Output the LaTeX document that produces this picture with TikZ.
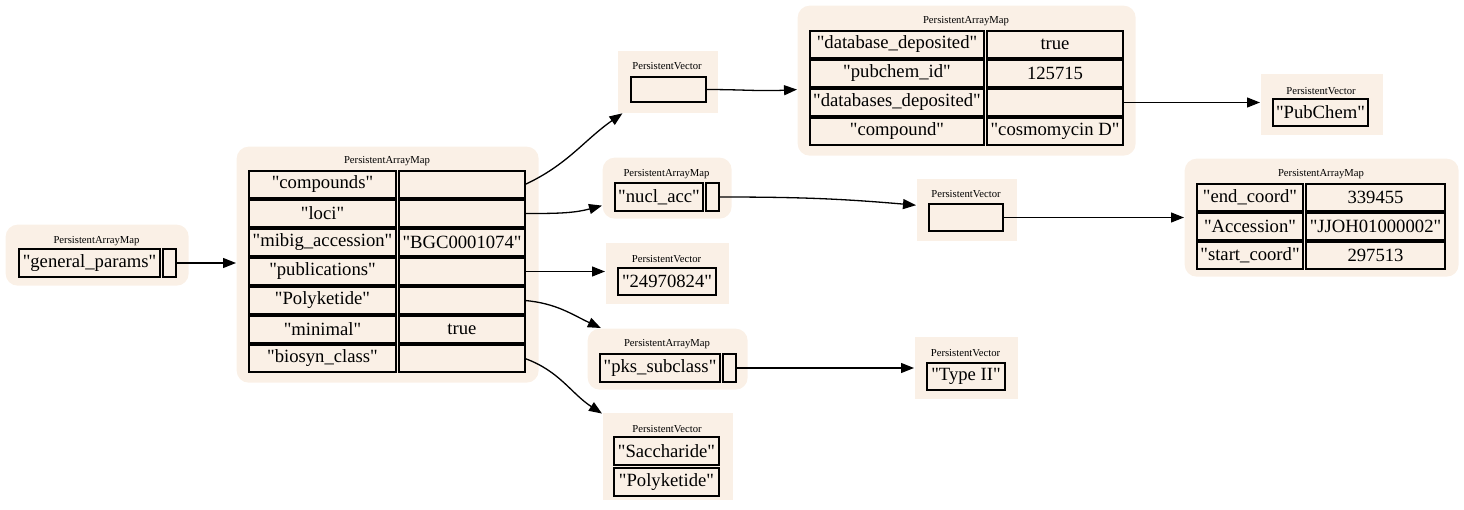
\documentclass[tikz,border=0pt]{standalone}
\usepackage{fontspec}
\setmainfont{Liberation Serif}
\usetikzlibrary{arrows.meta,positioning}
\definecolor{mapbg}{HTML}{FAF0E6}
\newcommand\strq[1]{\textquotedbl#1\textquotedbl}

\tikzset{
  mapbox/.style={fill=mapbg,rounded corners=12pt,anchor=north west,inner sep=0pt},
  vecbox/.style={fill=mapbg,anchor=north west,inner sep=0pt},
  cell/.style={draw=black,line width=1.2pt,fill=mapbg,anchor=north west,inner sep=0pt,
    outer sep=0pt,minimum height=27pt,font=\fontsize{18.67pt}{22pt}\selectfont},
  ttl/.style={inner sep=0pt,font=\fontsize{10.67pt}{12pt}\selectfont},
}

\begin{document}
\begin{tikzpicture}[x=1pt,y=1pt,>={Triangle[length=13pt,width=10pt]},line width=1.3pt]
\useasboundingbox (0,0) rectangle (1464,-509);
% general_params
\node[mapbox,minimum width=183pt,minimum height=61pt] (abg) at (5,-224) {};
\node[ttl] (atitle) at (96.5,-241) {PersistentArrayMap};
\node[cell,minimum width=141pt,minimum height=28pt] (a1) at (19,-249) {\strq{general\_params}};
\node[cell,minimum width=13pt,minimum height=28pt,right=3pt of a1] (a2) {};
% top level map
\node[mapbox,minimum width=302pt,minimum height=236pt] (bbg) at (236,-146) {};
\node[ttl] (btitle) at (387,-161) {PersistentArrayMap};
\node[cell,minimum width=147pt] (b1) at (249,-171) {\strq{compounds}};
\node[cell,minimum width=147pt,below=2pt of b1] (b2) {\strq{loci}};
\node[cell,minimum width=147pt,below=2pt of b2] (b3) {\strq{mibig\_accession}};
\node[cell,minimum width=147pt,below=2pt of b3] (b4) {\strq{publications}};
\node[cell,minimum width=147pt,below=2pt of b4] (b5) {\strq{Polyketide}};
\node[cell,minimum width=147pt,below=2pt of b5] (b6) {\strq{minimal}};
\node[cell,minimum width=147pt,below=2pt of b6] (b7) {\strq{biosyn\_class}};
\node[cell,minimum width=126pt,right=3pt of b1] (b1v) {};
\node[cell,minimum width=126pt,right=3pt of b2] (b2v) {};
\node[cell,minimum width=126pt,right=3pt of b3] (b3v) {\strq{BGC0001074}};
\node[cell,minimum width=126pt,right=3pt of b4] (b4v) {};
\node[cell,minimum width=126pt,right=3pt of b5] (b5v) {};
\node[cell,minimum width=126pt,right=3pt of b6] (b6v) {true};
\node[cell,minimum width=126pt,right=3pt of b7] (b7v) {};
% compounds
\node[vecbox,minimum width=100pt,minimum height=62pt] (cbg) at (617,-50) {};
\node[ttl] (ctitle) at (667,-66) {PersistentVector};
\node[cell,minimum width=75pt,minimum height=25pt] (c1) at (631,-77) {};
\node[mapbox,minimum width=338pt,minimum height=150pt] (hbg) at (797,-5) {};
\node[ttl] (htitle) at (966,-21) {PersistentArrayMap};
\node[cell,minimum width=174pt] (h1) at (810,-31) {\strq{database\_deposited}};
\node[cell,minimum width=174pt,below=2pt of h1] (h2) {\strq{pubchem\_id}};
\node[cell,minimum width=174pt,below=2pt of h2] (h3) {\strq{databases\_deposited}};
\node[cell,minimum width=174pt,below=2pt of h3] (h4) {\strq{compound}};
\node[cell,minimum width=136pt,right=3pt of h1] (h1v) {true};
\node[cell,minimum width=136pt,right=3pt of h2] (h2v) {125715};
\node[cell,minimum width=136pt,right=3pt of h3] (h3v) {};
\node[cell,minimum width=136pt,right=3pt of h4] (h4v) {\strq{cosmomycin D}};
\node[vecbox,minimum width=122pt,minimum height=61pt] (ibg) at (1260,-73) {};
\node[ttl] (ititle) at (1321,-91) {PersistentVector};
\node[cell,minimum width=95pt] (i1) at (1273,-99) {\strq{PubChem}};
% loci
\node[mapbox,minimum width=129pt,minimum height=61pt] (dbg) at (602,-157) {};
\node[ttl] (dtitle) at (666.5,-174) {PersistentArrayMap};
\node[cell,minimum width=88pt,minimum height=28pt] (d1) at (615,-183) {\strq{nucl\_acc}};
\node[cell,minimum width=13pt,minimum height=28pt,right=3pt of d1] (d2) {};
\node[vecbox,minimum width=100pt,minimum height=62pt] (jbg) at (916,-178) {};
\node[ttl] (jtitle) at (966,-194) {PersistentVector};
\node[cell,minimum width=74pt] (j1) at (929,-204) {};
\node[mapbox,minimum width=274pt,minimum height=118pt] (kbg) at (1184,-158) {};
\node[ttl] (ktitle) at (1321,-174) {PersistentArrayMap};
\node[cell,minimum width=106pt] (k1) at (1197,-184) {\strq{end\_coord}};
\node[cell,minimum width=106pt,below=2pt of k1] (k2) {\strq{Accession}};
\node[cell,minimum width=106pt,below=2pt of k2] (k3) {\strq{start\_coord}};
\node[cell,minimum width=139pt,right=3pt of k1] (k1v) {339455};
\node[cell,minimum width=139pt,right=3pt of k2] (k2v) {\strq{JJOH01000002}};
\node[cell,minimum width=139pt,right=3pt of k3] (k3v) {297513};
% publications
\node[vecbox,minimum width=123pt,minimum height=61pt] (ebg) at (605,-242) {};
\node[ttl] (etitle) at (666.5,-259) {PersistentVector};
\node[cell,minimum width=98pt] (e1) at (618,-268) {\strq{24970824}};
% Polyketide
\node[mapbox,minimum width=160pt,minimum height=61pt] (fbg) at (587,-328) {};
\node[ttl] (ftitle) at (667,-344) {PersistentArrayMap};
\node[cell,minimum width=120pt,minimum height=28pt] (f1) at (600,-354) {\strq{pks\_subclass}};
\node[cell,minimum width=13pt,minimum height=28pt,right=3pt of f1] (f2) {};
\node[vecbox,minimum width=103pt,minimum height=62pt] (lbg) at (914,-336) {};
\node[ttl] (ltitle) at (965.5,-353) {PersistentVector};
\node[cell,minimum width=78pt] (l1) at (927,-363) {\strq{Type II}};
% biosyn_class
\node[vecbox,minimum width=130pt,minimum height=87pt] (gbg) at (602,-412) {};
\node[ttl] (gtitle) at (667,-429) {PersistentVector};
\node[cell,minimum width=105pt,minimum height=28pt] (g1) at (614,-437) {\strq{Saccharide}};
\node[cell,minimum width=105pt,minimum height=28pt,below=3pt of g1] (g2) {\strq{Polyketide}};

\path[->]
  (a2.east) edge (a2.east -| bbg.west)
  (b1v.east) edge[out=25,in=215] (cbg)
  (b2v.east) edge[out=0,in=195] (dbg)
  (b4v.east) edge (b4v.east -| ebg.west)
  (b5v.east) edge[out=-5,in=155] (fbg)
  (b7v.east) edge[out=-20,in=147] (gbg)
  (c1.east) edge[out=0,in=183] (hbg)
  (h3v.east) edge (h3v.east -| ibg.west)
  (d2.east) edge[out=0,in=175] (jbg)
  (j1.east) edge (j1.east -| kbg.west)
  (f2.east) edge (f2.east -| lbg.west)
;
\end{tikzpicture}
\end{document}
